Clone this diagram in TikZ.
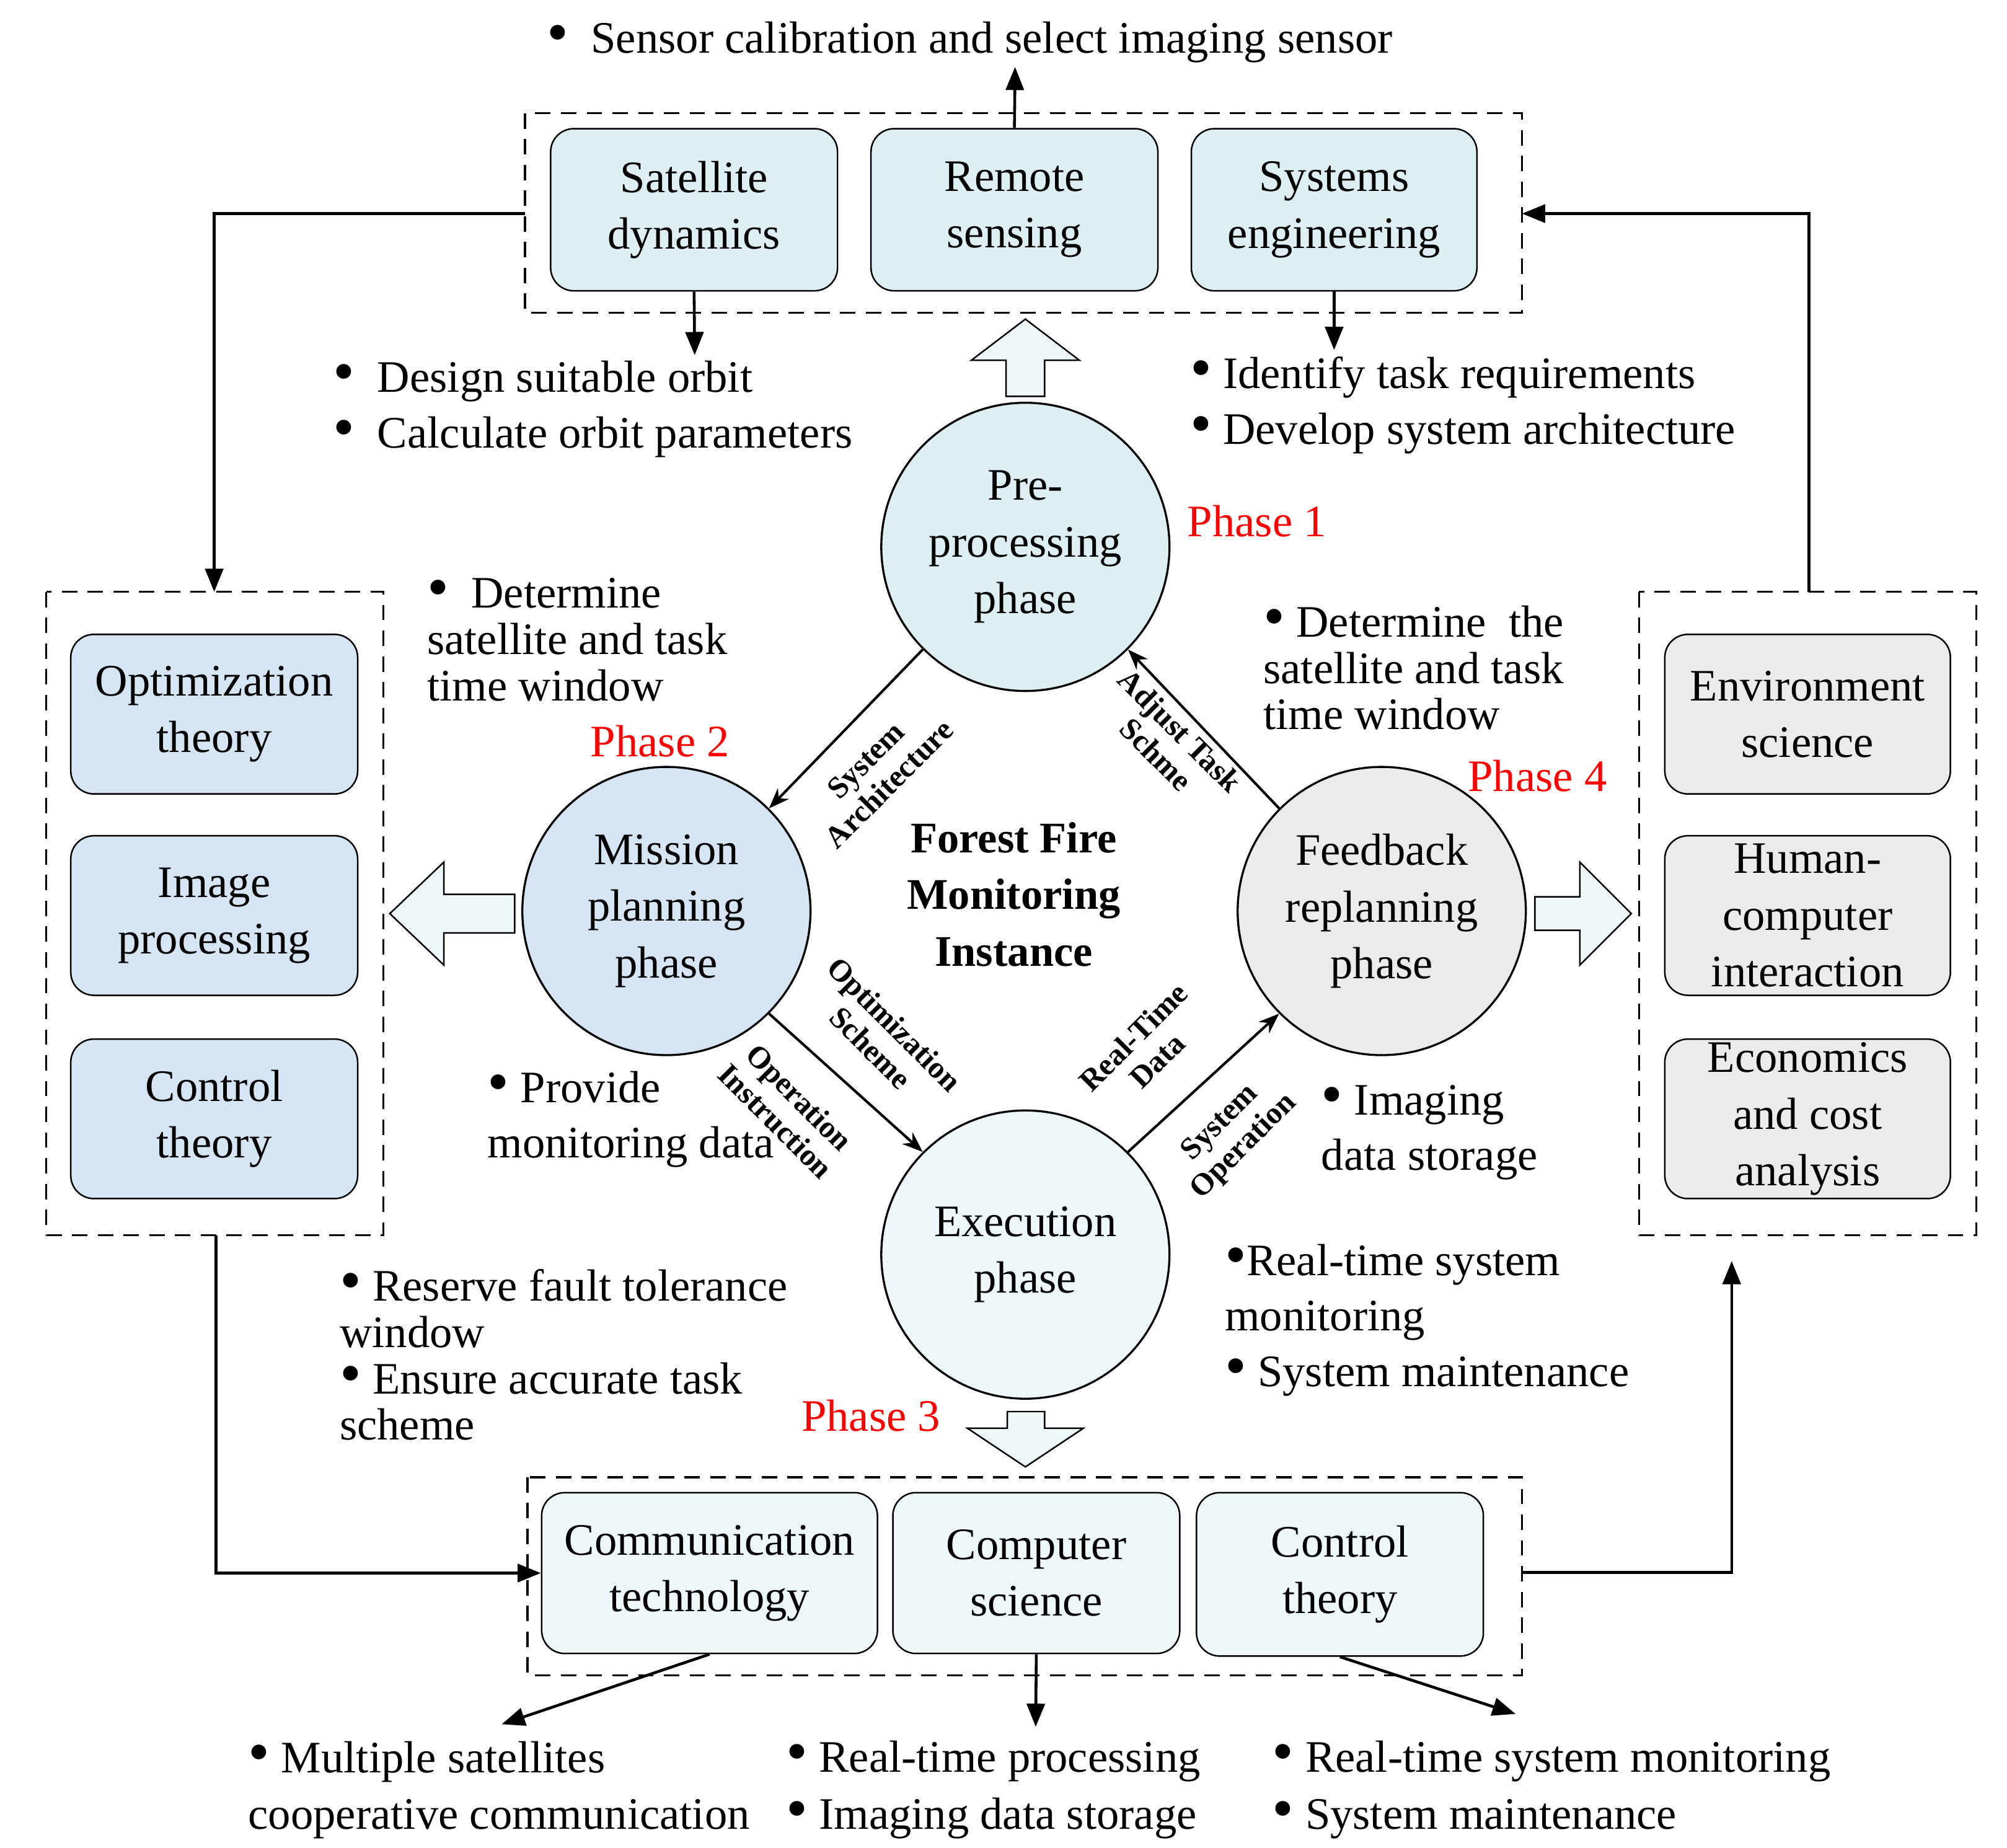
\documentclass[tikz,border=0pt]{standalone}
\usepackage{fontspec}
\setmainfont{Liberation Serif}
\usetikzlibrary{arrows.meta}
\definecolor{cA}{HTML}{DDEFF2}
\definecolor{cB}{HTML}{D5E5F3}
\definecolor{cC}{HTML}{EBEBEB}
\definecolor{cD}{HTML}{EEF8FA}
\definecolor{phr}{HTML}{FF0000}
\newcommand\bul{{\fontsize{24}{10}\selectfont\textbullet}}
\begin{document}
\begin{tikzpicture}[x=0.5pt,y=-0.5pt,
 font=\fontsize{17.5}{22}\selectfont,
 box/.style={draw,rounded corners=9pt,line width=0.6pt,align=center,inner sep=0},
 dbox/.style={draw,dashed,line width=0.8pt,dash pattern=on 6pt off 4pt},
 circ/.style={draw,circle,minimum size=112pt,line width=0.8pt,align=center},
 arr/.style={-{Stealth[length=8pt,width=6pt]},line width=1pt},
 barr/.style={-{Triangle[length=9pt,width=7pt]},line width=1.1pt},
 txt/.style={anchor=west,align=left},
 lab/.style={font=\fontsize{12}{13}\selectfont\bfseries,align=center},
 ph/.style={text=phr,anchor=west},
 blk/.style={draw,fill=cD,line width=0.6pt,line join=miter}]
\useasboundingbox (0,0) rectangle (1560,1436);
% dashed boxes
\draw[dbox] (408,88) rectangle (1183,243);
\coordinate (tbL) at (408,166); \coordinate (tbR) at (1183,166);
\draw[dbox] (36,460) rectangle (298,960);
\draw[dbox] (1274,460) rectangle (1536,960);
\draw[dbox] (410,1148) rectangle (1183,1302);
% top boxes
\node[box,fill=cA,minimum width=111.5pt,minimum height=63pt] (sd) at (539.5,163) {Satellite\\dynamics};
\node[box,fill=cA,minimum width=111.5pt,minimum height=63pt] (rs) at (788.5,163) {Remote\\sensing};
\node[box,fill=cA,minimum width=111pt,minimum height=63pt] (se) at (1037,163) {Systems\\engineering};
% left boxes
\node[box,fill=cB,minimum width=111.5pt,minimum height=62pt] (ot) at (166.5,555) {Optimization\\theory};
\node[box,fill=cB,minimum width=111.5pt,minimum height=62pt] (ip) at (166.5,711.5) {Image\\processing};
\node[box,fill=cB,minimum width=111.5pt,minimum height=62pt] (ct) at (166.5,869.5) {Control\\theory};
% right boxes
\node[box,fill=cC,minimum width=111pt,minimum height=62pt] (es) at (1405,555) {Environment\\science};
\node[box,fill=cC,minimum width=111pt,minimum height=62pt] (hc) at (1405,711.5) {Human-\\computer\\interaction};
\node[box,fill=cC,minimum width=111pt,minimum height=62pt] (ec) at (1405,869.5) {Economics\\and cost\\analysis};
% bottom boxes
\node[box,fill=cD,minimum width=130.5pt,minimum height=62.5pt] (cm) at (551.5,1222.5) {Communication\\technology};
\node[box,fill=cD,minimum width=111.5pt,minimum height=62.5pt] (cs) at (805.5,1222.5) {Computer\\science};
\node[box,fill=cD,minimum width=111.5pt,minimum height=63.5pt] (ct2) at (1041.5,1223.5) {Control\\theory};
% circles
\node[circ,fill=cA] (pre) at (797,425) {Pre-\\processing\\phase};
\node[circ,fill=cB] (mis) at (518,708) {Mission\\planning\\phase};
\node[circ,fill=cC] (fb) at (1074,708) {Feedback\\replanning\\phase};
\node[circ,fill=cD] (ex) at (797,975) {Execution\\phase};
\node[font=\fontsize{17}{22}\selectfont\bfseries,align=center] (ff) at (788,695) {Forest Fire\\Monitoring\\Instance};
% circle arrows
\draw[arr] (pre.225) -- (mis.45);
\draw[arr] (mis.-45) -- (ex.135);
\draw[arr] (ex.45) -- (fb.225);
\draw[arr] (fb.135) -- (pre.-45);
\node[lab,rotate=45] (l1) at (682,600) {System\\Architecture};
\node[lab,rotate=-45] (l2) at (908,577) {Adjust Task\\Schme};
\node[lab,rotate=-45] (l3) at (686,805) {Optimization\\Scheme};
\node[lab,rotate=-45] (l4) at (612,862) {Operation\\Instruction};
\node[lab,rotate=45] (l5) at (890,815) {Real-Time\\Data};
\node[lab,rotate=45] (l6) at (958,882) {System\\Operation};
% block arrows
\draw[blk] (782,308) -- (782,280) -- (755,280) -- (797,248) -- (839,280) -- (812,280) -- (812,308) -- cycle;
\draw[blk] (400,695) -- (345,695) -- (345,670) -- (303,710) -- (345,750) -- (345,725) -- (400,725) -- cycle;
\draw[blk] (1193,697) -- (1228,697) -- (1228,670) -- (1268,710) -- (1228,750) -- (1228,723) -- (1193,723) -- cycle;
\draw[blk] (783,1097) -- (812,1097) -- (812,1110) -- (842,1110) -- (797,1140) -- (752,1110) -- (783,1110) -- cycle;
% connectors
\draw[barr] (tbL) -| (ot.north |- 0,460);
\coordinate (rtop) at (1406,460);
\draw[barr] (rtop) |- (tbR);
\coordinate (lbot) at (168,960);
\draw[barr] (lbot) |- (cm.west);
\coordinate (bbr) at (1183,1222); \coordinate (rbot) at (1346,980);
\draw[barr] (bbr) -| (rbot);
\coordinate (t1) at (789,52); \draw[barr] (rs.north) -- (t1);
\coordinate (t2) at (540,276); \draw[barr] (sd.south) -- (t2);
\coordinate (t3) at (1037,272); \draw[barr] (se.south) -- (t3);
\coordinate (b1) at (390,1340); \draw[barr] (cm.south) -- (b1);
\coordinate (b2) at (805,1342); \draw[barr] (cs.south) -- (b2);
\coordinate (b3) at (1178,1332); \draw[barr] (ct2.south) -- (b3);
% texts
\node[txt] (x1) at (418,33) {\bul\ \ Sensor calibration and select imaging sensor};
\node[txt,font=\fontsize{17.5}{21.5}\selectfont] (x2) at (252,318) {\bul\ \ Design suitable orbit\\\bul\ \ Calculate orbit parameters};
\node[txt,font=\fontsize{17.5}{21.5}\selectfont] (x3) at (918,315) {\bul\ Identify task requirements\\\bul\ Develop system architecture};
\node[txt,font=\fontsize{17.5}{18}\selectfont] (x4) at (325,497) {\bul\ \ Determine\\satellite and task\\time window};
\node[txt,font=\fontsize{17.5}{18}\selectfont] (x5) at (975,519) {\bul\ Determine\ \ the\\satellite and task\\time window};
\node[txt,font=\fontsize{17.5}{21.5}\selectfont] (x6) at (372,870) {\bul\ Provide\\monitoring data};
\node[txt,font=\fontsize{17.5}{21.5}\selectfont] (x7) at (1020,880) {\bul\ Imaging\\data storage};
\node[txt,font=\fontsize{17.5}{18}\selectfont] (x8) at (257,1053) {\bul\ Reserve fault tolerance\\window\\\bul\ Ensure accurate task\\scheme};
\node[txt,font=\fontsize{17.5}{21.5}\selectfont] (x9) at (945,1026) {\bul Real-time system\\monitoring\\\bul\ System maintenance};
\node[txt] (x10) at (186,1391) {\bul\ Multiple satellites\\cooperative communication};
\node[txt] (x11) at (604,1391) {\bul\ Real-time processing\\\bul\ Imaging data storage};
\node[txt] (x12) at (982,1391) {\bul\ Real-time system monitoring\\\bul\ System maintenance};
\node[ph] (p1) at (916,405) {Phase 1};
\node[ph] (p2) at (452,576) {Phase 2};
\node[ph] (p4) at (1134,603) {Phase 4};
\node[ph] (p3) at (616,1100) {Phase 3};
\end{tikzpicture}
\end{document}
